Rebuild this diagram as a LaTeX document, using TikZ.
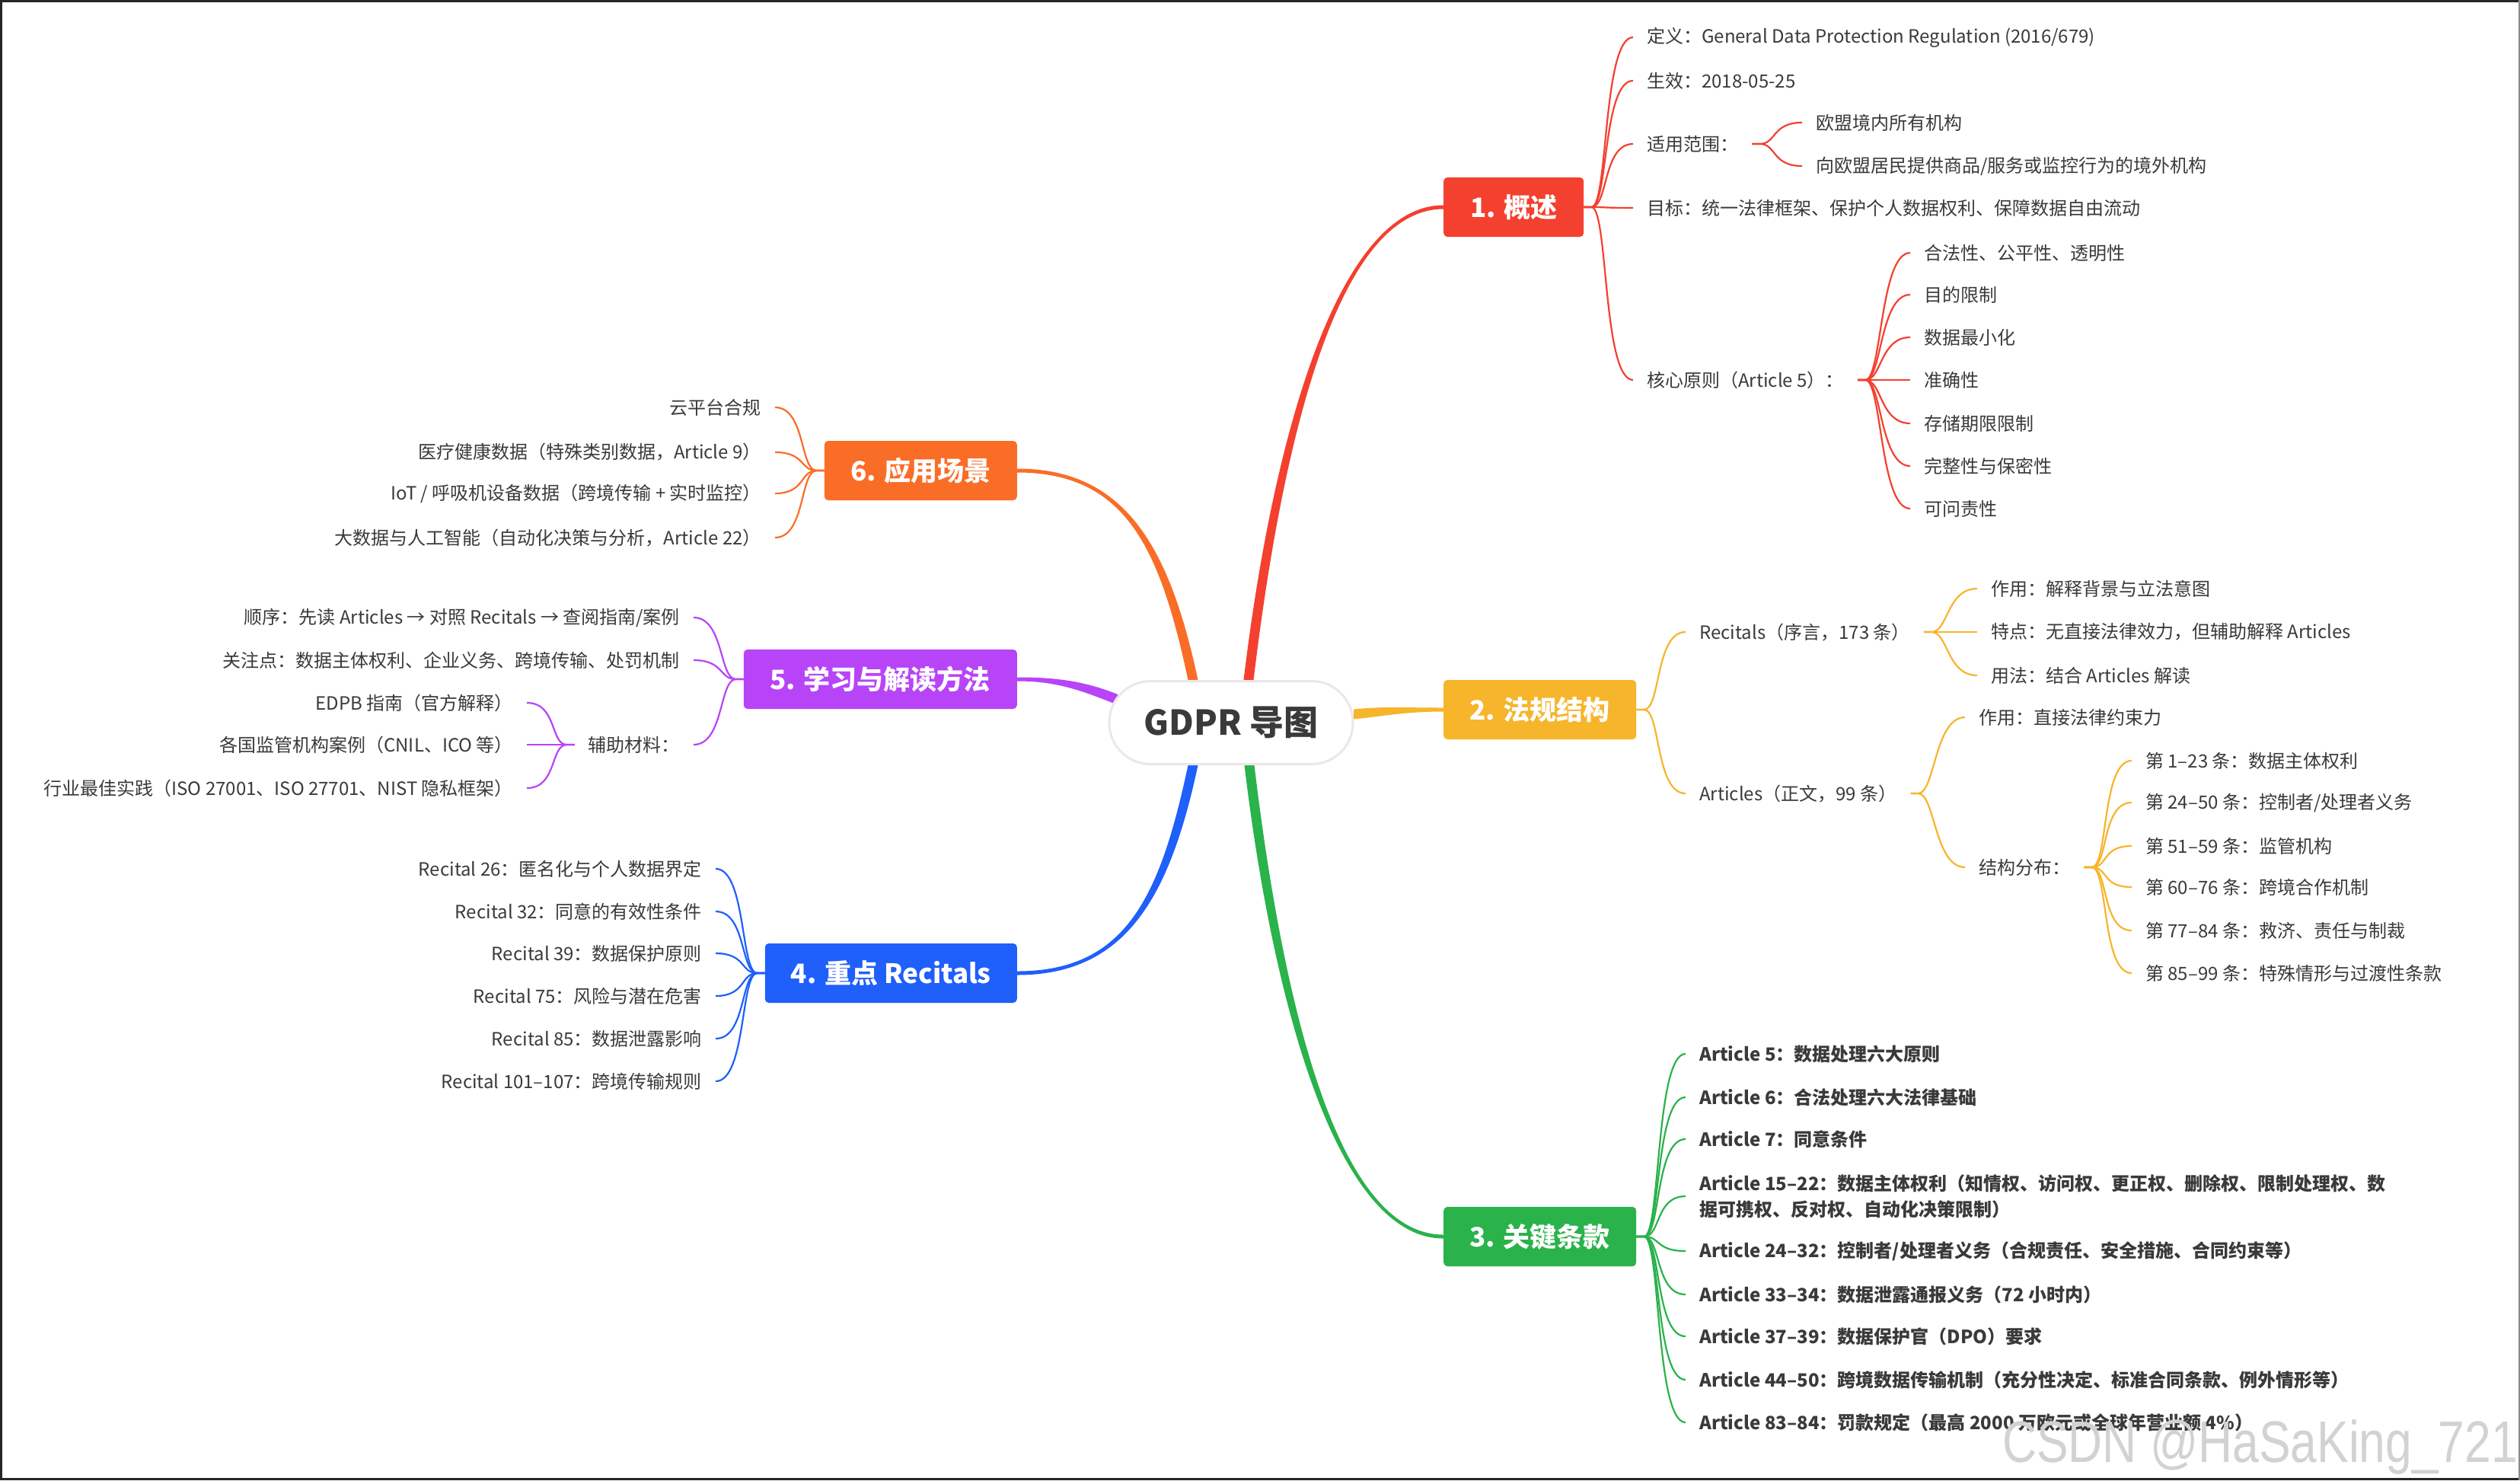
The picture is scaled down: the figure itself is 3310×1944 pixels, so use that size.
\documentclass[tikz,border=0pt]{standalone}
\usepackage{fontspec}
\usepackage{graphicx}
\setmainfont{Noto Sans CJK SC}
\newfontfamily\wmfont{Liberation Sans}
\usetikzlibrary{calc}
\pgfdeclarelayer{bg}
\pgfsetlayers{bg,main}
\definecolor{cR}{HTML}{F4402F}
\definecolor{cA}{HTML}{F7B52C}
\definecolor{cG}{HTML}{2AB24B}
\definecolor{cB}{HTML}{1F5FFA}
\definecolor{cP}{HTML}{B844F7}
\definecolor{cO}{HTML}{FA6D27}
\definecolor{txt}{HTML}{3A3A3A}
\definecolor{rootline}{HTML}{ECE6E9}
\definecolor{wmfill}{HTML}{D2D2D2}
% connector from parent (right side) to child
\newcommand\lnR[3]{\draw[#1] (#2.east) -- ($(#2.east)+(10,0)$) .. controls ($(#2.east)+(32,0)$) and ($(#3.west)+(-40,0)$) .. (#3.west);}
% connector from parent (left side) to child
\newcommand\lnL[3]{\draw[#1] (#2.west) -- ($(#2.west)+(-10,0)$) .. controls ($(#2.west)+(-32,0)$) and ($(#3.east)+(40,0)$) .. (#3.east);}
% tapered main branch: colour, start, c1 rel start, c2 rel end, end, start half-width, end half-width
\newcommand\taper[7]{\fill[#1] ($#2+#6$) .. controls ($#2+#3+#6$) and ($#5+#4+#7$) .. ($#5+#7$) -- ($#5-#7$) .. controls ($#5+#4-#7$) and ($#2+#3-#6$) .. ($#2-#6$) -- cycle;}
\begin{document}
\begin{tikzpicture}[x=1pt,y=-1pt,
  leaf/.style={inner xsep=18pt,inner ysep=3pt,text=txt,font=\fontsize{24}{34}\selectfont,align=left},
  lr/.style={leaf,anchor=west},
  ll/.style={leaf,anchor=east},
  bt/.style={font=\fontsize{24}{34}\selectfont\bfseries},
  boxn/.style={rounded corners=5pt,minimum height=78pt,inner sep=0pt,text=white,font=\fontsize{35}{40}\selectfont\bfseries},
  rootn/.style={fill=white,draw=rootline,line width=3pt,rounded corners=54pt,minimum width=320pt,minimum height=109pt,inner sep=0pt,text=txt,font=\fontsize{45}{50}\selectfont\bfseries},
  sub/.style={line width=2.2pt}]
\useasboundingbox (0,0) rectangle (3310,1944);

% ---------- root and main boxes ----------
\node[rootn] (root) at (1617,949) {GDPR 导图};
\node[boxn,fill=cR,minimum width=184pt,anchor=west] (b1) at (1896,272) {1. 概述};
\node[boxn,fill=cA,minimum width=253pt,anchor=west] (b2) at (1896,932) {2. 法规结构};
\node[boxn,fill=cG,minimum width=253pt,anchor=west] (b3) at (1896,1624) {3. 关键条款};
\node[boxn,fill=cB,minimum width=331pt,anchor=east] (b4) at (1336,1278) {4. 重点 Recitals};
\node[boxn,fill=cP,minimum width=359pt,anchor=east] (b5) at (1336,892) {5. 学习与解读方法};
\node[boxn,fill=cO,minimum width=253pt,anchor=east] (b6) at (1336,618) {6. 应用场景};

% ---------- branch 1 ----------
\node[lr] (a1) at (2145,49) {定义：General Data Protection Regulation (2016/679)};
\node[lr] (a2) at (2145,106) {生效：2018-05-25};
\node[lr] (a3) at (2145,189) {适用范围：};
\node[lr] (a31) at (2367,161) {欧盟境内所有机构};
\node[lr] (a32) at (2367,218) {向欧盟居民提供商品/服务或监控行为的境外机构};
\node[lr] (a4) at (2145,273) {目标：统一法律框架、保护个人数据权利、保障数据自由流动};
\node[lr] (a5) at (2145,499) {核心原则（Article 5）：};
\node[lr] (a51) at (2509,332) {合法性、公平性、透明性};
\node[lr] (a52) at (2509,387) {目的限制};
\node[lr] (a53) at (2509,443) {数据最小化};
\node[lr] (a54) at (2509,499) {准确性};
\node[lr] (a55) at (2509,556) {存储期限限制};
\node[lr] (a56) at (2509,612) {完整性与保密性};
\node[lr] (a57) at (2509,668) {可问责性};

% ---------- branch 2 ----------
\node[lr] (r1) at (2214,830) {Recitals（序言，173 条）};
\node[lr] (r11) at (2597,773) {作用：解释背景与立法意图};
\node[lr] (r12) at (2597,830) {特点：无直接法律效力，但辅助解释 Articles};
\node[lr] (r13) at (2597,887) {用法：结合 Articles 解读};
\node[lr] (r2) at (2214,1042) {Articles（正文，99 条）};
\node[lr] (r21) at (2581,942) {作用：直接法律约束力};
\node[lr] (r22) at (2581,1139) {结构分布：};
\node[lr] (s1) at (2800,999) {第 1–23 条：数据主体权利};
\node[lr] (s2) at (2800,1054) {第 24–50 条：控制者/处理者义务};
\node[lr] (s3) at (2800,1111) {第 51–59 条：监管机构};
\node[lr] (s4) at (2800,1165) {第 60–76 条：跨境合作机制};
\node[lr] (s5) at (2800,1222) {第 77–84 条：救济、责任与制裁};
\node[lr] (s6) at (2800,1278) {第 85–99 条：特殊情形与过渡性条款};

% ---------- branch 3 ----------
\node[lr,bt] (k1) at (2214,1384) {Article 5：数据处理六大原则};
\node[lr,bt] (k2) at (2214,1441) {Article 6：合法处理六大法律基础};
\node[lr,bt] (k3) at (2214,1496) {Article 7：同意条件};
\node[lr,bt] (k4) at (2214,1571) {Article 15–22：数据主体权利（知情权、访问权、更正权、删除权、限制处理权、数\\据可携权、反对权、自动化决策限制）};
\node[lr,bt] (k5) at (2214,1643) {Article 24–32：控制者/处理者义务（合规责任、安全措施、合同约束等）};
\node[lr,bt] (k6) at (2214,1700) {Article 33–34：数据泄露通报义务（72 小时内）};
\node[lr,bt] (k7) at (2214,1755) {Article 37–39：数据保护官（DPO）要求};
\node[lr,bt] (k8) at (2214,1812) {Article 44–50：跨境数据传输机制（充分性决定、标准合同条款、例外情形等）};
\node[lr,bt] (k9) at (2214,1868) {Article 83–84：罚款规定（最高 2000 万欧元或全球年营业额 4\%）};

% ---------- branch 4 ----------
\node[ll] (e1) at (940,1141) {Recital 26：匿名化与个人数据界定};
\node[ll] (e2) at (940,1197) {Recital 32：同意的有效性条件};
\node[ll] (e3) at (940,1252) {Recital 39：数据保护原则};
\node[ll] (e4) at (940,1308) {Recital 75：风险与潜在危害};
\node[ll] (e5) at (940,1364) {Recital 85：数据泄露影响};
\node[ll] (e6) at (940,1420) {Recital 101–107：跨境传输规则};

% ---------- branch 5 ----------
\node[ll] (m1) at (911,811) {顺序：先读 Articles → 对照 Recitals → 查阅指南/案例};
\node[ll] (m2) at (911,867) {关注点：数据主体权利、企业义务、跨境传输、处罚机制};
\node[ll] (m3) at (911,978) {辅助材料：};
\node[ll] (m31) at (692,923) {EDPB 指南（官方解释）};
\node[ll] (m32) at (692,978) {各国监管机构案例（CNIL、ICO 等）};
\node[ll] (m33) at (692,1035) {行业最佳实践（ISO 27001、ISO 27701、NIST 隐私框架）};

% ---------- branch 6 ----------
\node[ll] (u1) at (1018,535) {云平台合规};
\node[ll] (u2) at (1018,594) {医疗健康数据（特殊类别数据，Article 9）};
\node[ll] (u3) at (1018,648) {IoT / 呼吸机设备数据（跨境传输 + 实时监控）};
\node[ll] (u4) at (1018,706) {大数据与人工智能（自动化决策与分析，Article 22）};

% ---------- connectors (background) ----------
\begin{pgfonlayer}{bg}
\fill[white] (0,0) rectangle (3310,1944);
\coordinate (sR) at ($(root.center)+(23,-56)$);
\coordinate (sG) at ($(root.center)+(24,56)$);
\coordinate (sO) at ($(root.center)+(-50,-56)$);
\coordinate (sB) at ($(root.center)+(-50,56)$);
\coordinate (sA) at ($(root.center)+(161,-11)$);
\coordinate (sP) at ($(root.center)+(-151,-31)$);
\taper{cR}{(sR)}{(40,-333)}{(-135,0)}{(b1.west)}{(-6.5,0)}{(0,-2.5)}
\taper{cG}{(sG)}{(40,333)}{(-135,0)}{(b3.west)}{(-6.5,0)}{(0,2.5)}
\taper{cO}{(sO)}{(-37,-173)}{(143,0)}{(b6.east)}{(6.5,0)}{(0,-2.5)}
\taper{cB}{(sB)}{(-37,173)}{(143,0)}{(b4.east)}{(6.5,0)}{(0,2.5)}
\taper{cA}{(sA)}{(40,-4)}{(-50,0)}{(b2.west)}{(0,-6.5)}{(0,-2.5)}
\taper{cP}{(sP)}{(-45,-18)}{(50,0)}{(b5.east)}{(2.4,-6)}{(0,-2.5)}

\foreach \c in {a1,a2,a3,a4,a5} {\lnR{sub,cR}{b1}{\c}}
\foreach \c in {a31,a32} {\lnR{sub,cR}{a3}{\c}}
\foreach \c in {a51,a52,a53,a54,a55,a56,a57} {\lnR{sub,cR}{a5}{\c}}

\foreach \c in {r1,r2} {\lnR{sub,cA}{b2}{\c}}
\foreach \c in {r11,r12,r13} {\lnR{sub,cA}{r1}{\c}}
\foreach \c in {r21,r22} {\lnR{sub,cA}{r2}{\c}}
\foreach \c in {s1,s2,s3,s4,s5,s6} {\lnR{sub,cA}{r22}{\c}}

\foreach \c in {k1,k2,k3,k4,k5,k6,k7,k8,k9} {\lnR{sub,cG}{b3}{\c}}

\foreach \c in {e1,e2,e3,e4,e5,e6} {\lnL{sub,cB}{b4}{\c}}

\foreach \c in {m1,m2,m3} {\lnL{sub,cP}{b5}{\c}}
\foreach \c in {m31,m32,m33} {\lnL{sub,cP}{m3}{\c}}

\foreach \c in {u1,u2,u3,u4} {\lnL{sub,cO}{b6}{\c}}
\end{pgfonlayer}

% ---------- watermark ----------
\node[anchor=base west,inner sep=0pt,text=wmfill,font=\wmfont\fontsize{77}{80}\selectfont] (wm) at (2630,1920) {\scalebox{0.81}[1]{CSDN @HaSaKing\_721}};

% ---------- frame ----------
\draw[black!85,line width=3pt] (3308,1.5) -- (1.5,1.5) -- (1.5,1942.5) -- (3308,1942.5);
\draw[black!45,line width=2pt] (3309,0) -- (3309,1944);
\end{tikzpicture}
\end{document}
